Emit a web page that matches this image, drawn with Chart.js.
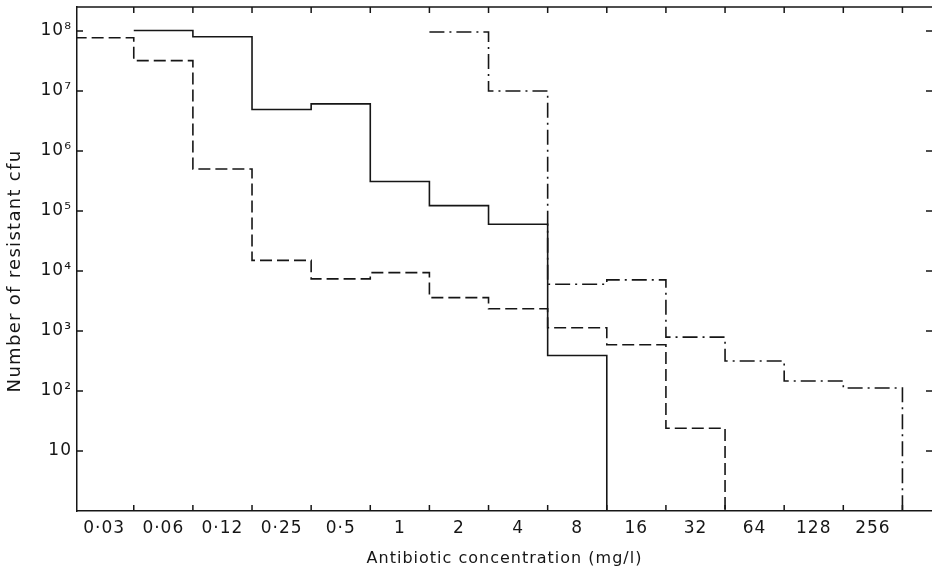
<!DOCTYPE html>
<html>
<head>
<meta charset="utf-8">
<script src="https://cdn.jsdelivr.net/npm/chart.js@4"></script>
<style>
  html, body { margin: 0; padding: 0; background: #fff; }
  #wrap { width: 932px; height: 572px; }
</style>
</head>
<body>
<div id="wrap"><canvas id="miGrafico"></canvas></div>
<script>
// bins of antibiotic concentration (mg/l)
const categories = ['0·03', '0·06', '0·12', '0·25', '0·5', '1', '2', '4', '8', '16', '32', '64', '128', '256'];
// number of resistant cfu per bin, null = no line in that bin
const solidCounts   = [null, 1.02e8, 8.0e7, 4.9e6, 6.1e6, 3.1e5, 1.23e5, 6.0e4, 390, null, null, null, null, null];
const dashedCounts  = [7.7e7, 3.2e7, 5.0e5, 1.5e4, 7.4e3, 9.4e3, 3.6e3, 2.35e3, 1.13e3, 590, 24, null, null, null];
const dashDotCounts = [null, null, null, null, null, null, 9.6e7, 1.0e7, 6.0e3, 7.1e3, 790, 316, 147, 112];
const decades = [1e1, 1e2, 1e3, 1e4, 1e5, 1e6, 1e7, 1e8];
const yTitle = 'Number of resistant cfu';

const sup = {'0':'⁰','1':'¹','2':'²','3':'³','4':'⁴','5':'⁵','6':'⁶','7':'⁷','8':'⁸','9':'⁹'};

// step points: value at left edge of each bin, then drop to the floor after the last bin
function toSteps(counts) {
    const pts = [];
    let last = -1;
    counts.forEach((v, i) => {
        if (v !== null) { pts.push({x: i, y: v}); last = i; }
    });
    pts.push({x: last + 1, y: 1});
    return pts;
}

const ink = '#161616';
const fontFam = '"DejaVu Sans", sans-serif';

const axisMarks = {
    id: 'axisMarks',
    beforeDraw(chart) {
        chart.ctx.letterSpacing = '1px';
    },
    afterDatasetsDraw(chart) {
        const {ctx, chartArea: a, scales: {x, y}} = chart;
        ctx.save();
        ctx.strokeStyle = ink;
        ctx.lineWidth = 1.5;
        ctx.beginPath();
        ctx.moveTo(a.left, a.top);
        ctx.lineTo(a.right, a.top);
        for (let e = 1; e <= categories.length; e++) {
            const px = x.getPixelForValue(e);
            ctx.moveTo(px, a.bottom); ctx.lineTo(px, a.bottom - 6);
            ctx.moveTo(px, a.top); ctx.lineTo(px, a.top + 6);
        }
        for (let v of decades) {
            const py = y.getPixelForValue(v);
            ctx.moveTo(a.left, py); ctx.lineTo(a.left + 6, py);
            ctx.moveTo(a.right, py); ctx.lineTo(a.right - 6, py);
        }
        ctx.stroke();
        // y title sits a bit below the middle of the axis in the original
        ctx.translate(15, (a.top + a.bottom) / 2 + 12);
        ctx.rotate(-Math.PI / 2);
        ctx.fillStyle = ink;
        ctx.font = '18px ' + fontFam;
        ctx.letterSpacing = '1.3px';
        ctx.textAlign = 'center';
        ctx.textBaseline = 'middle';
        ctx.fillText(yTitle, 0, 0);
        ctx.restore();
    }
};

function lineSet(label, counts, dash) {
    return {
        label: label,
        data: toSteps(counts),
        stepped: true,
        borderColor: ink,
        borderWidth: 1.6,
        borderDash: dash,
        pointRadius: 0,
        fill: false
    };
}

new Chart(document.getElementById('miGrafico'), {
    type: 'line',
    data: {
        datasets: [
            lineSet('solid', solidCounts, []),
            lineSet('dashed', dashedCounts, [12, 5]),
            lineSet('dash-dot', dashDotCounts, [15, 5, 2, 5])
        ]
    },
    options: {
        responsive: true,
        maintainAspectRatio: false,
        animation: false,
        layout: { padding: { top: 7, right: 0, left: 0, bottom: 0 } },
        plugins: { legend: { display: false }, tooltip: { enabled: false } },
        scales: {
            x: {
                type: 'linear',
                min: 0.04,
                max: 14.5,
                grid: { display: false, drawTicks: false },
                border: { display: true, color: ink, width: 1.5 },
                afterBuildTicks: (scale) => {
                    scale.ticks = categories.map((c, i) => ({ value: i + 0.5 }));
                },
                afterFit: (scale) => {
                    scale.height = 61;
                    scale.paddingLeft = 0;
                    scale.paddingRight = 0;
                },
                ticks: {
                    autoSkip: false,
                    maxRotation: 0,
                    padding: 7,
                    color: ink,
                    font: { family: fontFam, size: 17 },
                    callback: (v, i) => categories[i]
                },
                title: {
                    display: true,
                    text: 'Antibiotic concentration (mg/l)',
                    color: ink,
                    font: { family: fontFam, size: 16 },
                    padding: { top: 0, bottom: 4 }
                }
            },
            y: {
                type: 'logarithmic',
                min: 1,
                max: 2.51e8,
                grid: { display: false, drawTicks: false },
                border: { display: true, color: ink, width: 1.5 },
                afterBuildTicks: (scale) => {
                    scale.ticks = [1].concat(decades).map(v => ({ value: v }));
                },
                afterFit: (scale) => {
                    scale.width = 77;
                    scale.paddingTop = 0;
                    scale.paddingBottom = 0;
                },
                ticks: {
                    padding: 5,
                    color: ink,
                    font: { family: fontFam, size: 17 },
                    callback: (v) => {
                        const p = Math.round(Math.log10(v));
                        if (p === 0) return '';
                        if (p === 1) return '10';
                        return '10' + String(p).split('').map(d => sup[d]).join('');
                    }
                },
                title: { display: false }
            }
        }
    },
    plugins: [axisMarks]
});
</script>
</body>
</html>
